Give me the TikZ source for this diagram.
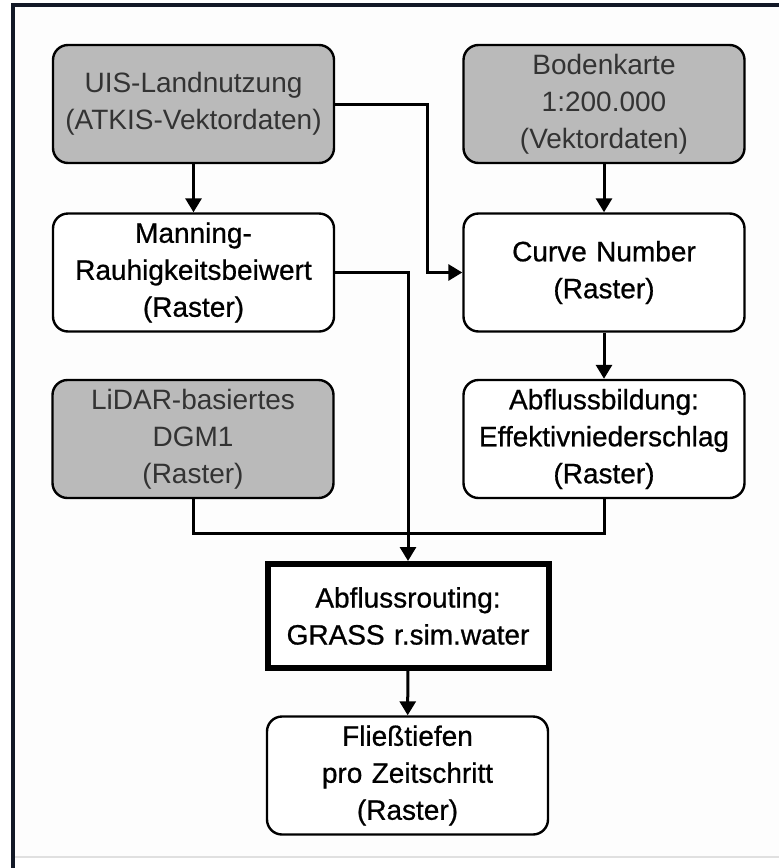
\documentclass[tikz,border=0pt]{standalone}
\usepackage{fontspec}
\setmainfont{Liberation Sans}
\newfontfamily\dickschrift[FakeBold=0.7]{Liberation Sans}
\usetikzlibrary{positioning,arrows.meta}
\definecolor{rahmenfarbe}{RGB}{18,24,38}
\definecolor{grauquelle}{RGB}{186,186,186}
\definecolor{grundton}{RGB}{253,253,253}

\begin{document}
\begin{tikzpicture}[
  x=1pt, y=-1pt,
  box/.style={draw=black, line width=2.4pt, rounded corners=15pt,
    minimum width=281pt, minimum height=118pt, inner sep=0pt,
    text width=276pt, align=center,
    font=\fontsize{28}{37}\selectfont},
  quelle/.style={box, fill=grauquelle, text=black!80},
  raster/.style={box, fill=white, text=black,
    font=\dickschrift\fontsize{28}{37}\selectfont},
  kern/.style={raster, rounded corners=0pt, line width=6pt,
    minimum height=104pt},
  pfeil/.style={line width=3pt, -{Triangle[length=14pt,width=16pt]}},
  linie/.style={line width=3pt},
]
  \useasboundingbox (0,0) rectangle (779,868);
  % ---- Rahmen ----
  \fill[grundton] (13,5) rectangle (779,857);
  \draw[black!12, line width=1.5pt] (13,857) -- (779,857);
  \draw[rahmenfarbe, line width=4pt] (13,868) -- (13,5) -- (779,5);
  % ---- Eingangsdaten (grau) ----
  \node[quelle] (uis) at (193.5,104) {UIS-Landnutzung\\(ATKIS-Vektordaten)};
  \node[quelle] (boden) at (604,104) {Bodenkarte\\1:200.000\\(Vektordaten)};
  \node[quelle] (lidar) at (193,439) {LiDAR-basiertes\\DGM1\\(Raster)};
  % ---- Abgeleitete Raster ----
  \node[raster] (manning) at (193.5,272.5) {Manning-\\Rauhigkeitsbeiwert\\(Raster)};
  \node[raster] (cn) at (604,272.5) {Curve Number\\(Raster)};
  \node[raster] (abfb) at (604,439) {Abflussbildung:\\Effektivniederschlag\\(Raster)};
  % ---- Modell und Ergebnis ----
  \node[kern] (routing) at (408,616) {Abflussrouting:\\GRASS r.sim.water};
  \node[raster] (fliess) at (407.5,775.5) {Flie\ss tiefen\\pro Zeitschritt\\(Raster)};
  % ---- Verbindungen ----
  \draw[pfeil] (uis) -- (manning);
  \draw[pfeil] (boden) -- (cn);
  \draw[pfeil] (cn) -- (abfb);
  \draw[pfeil] (uis.east) -| ([xshift=-35pt]cn.west) -- (cn.west);
  \draw[pfeil] (manning.east) -| (routing.north);
  \draw[linie] (lidar.south) -- ++(0,34) -| (abfb.south);
  \draw[pfeil] (routing) -- (fliess);
\end{tikzpicture}
\end{document}
